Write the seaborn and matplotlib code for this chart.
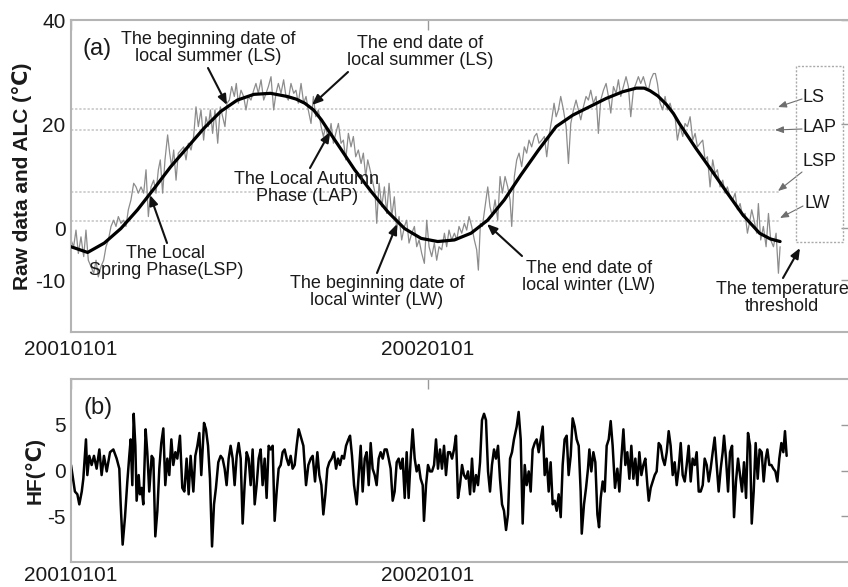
import matplotlib
matplotlib.use("Agg")
import matplotlib.pyplot as plt
from matplotlib.patches import Rectangle
import seaborn as sns
import pandas as pd

# ---------------- data ----------------
date_ticks = [0, 365]
date_labels = ["20010101", "20020101"]

# Annual cycle (ALC), days since 2001-01-01
alc_day = [0, 17, 34, 51, 68, 85, 102, 119, 136, 153, 170, 187, 204, 221, 230, 239, 248, 256, 263,
           273, 290, 307, 324, 341, 358, 375, 392, 409, 426, 443, 460, 478, 496, 513, 530, 547,
           564, 578, 586, 592, 600, 609, 616, 622, 639, 656, 670, 687, 704, 715, 725]
alc_val = [-3.6, -4.7, -2.9, -0.1, 3.5, 7.6, 11.8, 15.5, 19.2, 22.4, 24.6, 25.7, 25.9, 25.3,
           24.8, 24.0, 22.7, 20.8, 18.8, 16.0, 11.2, 7.0, 3.1, -0.1, -2.0, -2.6, -2.3, -1.0,
           1.5, 5.4, 10.2, 15.0, 19.5, 21.7, 23.3, 24.9, 26.2, 26.9, 26.9, 26.4, 25.4, 23.7,
           22.0, 20.1, 15.3, 10.8, 7.0, 2.5, -1.0, -2.1, -2.6]

# Raw daily data (day, temperature)
raw_part1 = [(0, -2.3), (2.7, -3.6), (5.1, -0.4), (7.5, -4.9), (10.2, -1.7), (13, -5.5), (15.3, -0.4),
             (17.7, -6.2), (20.4, -7.4), (23.2, -8.7), (25.6, -6.2), (27.9, -9.4), (30.7, -7.4),
             (33.4, -6.2), (35.8, -3.6), (38.2, -2.3), (40.9, 0.3), (43.6, 1.5), (46, 0.3), (48.4, 2.2),
             (51.1, 0.9), (53.8, 1.5), (56.2, 0.3), (58.6, 3.5), (61.3, 5.4), (64.1, 8.6), (66.5, 7.9),
             (68.8, 6.7), (71.6, 7.9), (74.3, 6.7), (76.7, 11.2), (79.1, 2.2), (81.8, 7.9), (84.5, 9.2),
             (86.9, 6.7), (89.3, 11.2), (91.3, 13.1), (93.7, 6.7), (96.1, 13.1), (98.8, 17.9),
             (100.9, 14.4), (102.9, 11.8), (105, 15.0), (107.4, 9.2), (109.7, 14.4), (112.5, 15.0),
             (115.2, 15.6), (117.6, 13.1), (120, 16.3), (122.7, 15.0), (125.4, 17.6), (127.8, 23.3),
             (130.2, 19.5), (132.9, 22.7), (135.6, 16.9), (138, 21.4), (140.4, 19.5), (142.5, 22.7),
             (144.8, 18.2), (147.2, 22.7), (150, 16.3), (152.7, 23.3), (155.1, 21.4), (157.4, 19.5),
             (159.5, 24.0), (161.9, 24.6), (164.3, 27.2), (167, 25.3), (169, 27.8), (171.1, 24.0),
             (173.8, 26.5), (176.5, 25.3), (178.9, 22.7), (181.3, 25.3), (184, 24.6), (186.8, 26.5),
             (189.1, 27.8), (191.5, 25.9), (194.3, 28.5), (197, 24.6), (199.4, 25.9), (201.8, 27.2),
             (204.5, 29.1), (207.2, 22.7), (209.6, 25.9), (212, 27.8), (214.7, 25.9), (217.4, 28.5),
             (219.8, 25.3), (222.2, 24.6), (224.9, 27.8), (227.7, 25.9), (230, 26.5), (232.4, 24.0),
             (235.2, 27.8), (237.9, 24.0), (240.3, 25.3), (242.6, 22.7), (245.4, 20.1)]
raw_part2 = [(247.8, 25.3), (250.2, 21.4), (252.9, 22.7), (255.7, 19.5), (258, 17.6), (260.4, 19.5),
             (263.2, 16.9), (265.9, 20.1), (268.3, 16.3), (270.7, 18.2), (273.4, 20.1), (276.1, 16.3),
             (278.5, 16.9), (280.9, 13.1), (283.6, 18.2), (286.3, 15.6), (288.7, 17.6), (291.1, 13.7),
             (293.8, 15.0), (296.6, 12.4), (298.9, 14.4), (301.3, 9.9), (303.4, 13.1), (305.8, 11.2),
             (308.1, 9.2), (310.9, 6.7), (312.6, 0.9), (315, 8.6), (317.7, 4.1), (320.4, 7.9),
             (322.8, 2.8), (325.2, 8.6), (327.9, 2.2), (330.6, 6.0), (333, -0.4), (335.4, 2.2),
             (338.1, -2.3), (340.9, 0.3), (343.2, 1.5), (345.6, -2.9), (348.4, -1.0), (351.1, 0.3),
             (353.5, -3.6), (355.9, -2.3), (358.6, -4.9), (361.3, -6.8), (363.7, 1.5), (366.1, -3.6),
             (368.8, -5.5), (371.5, -2.9), (373.9, -6.2), (376.3, -3.6), (379, -4.2), (381.8, -1.0),
             (384.1, -3.6), (386.5, -0.4), (389.2, -2.3), (392, -1.0), (394.4, -2.3), (396.7, 0.3),
             (399.5, -1.0), (402.2, 0.9), (404.6, -0.4), (407, 2.2), (409.7, 0.3), (412.4, -2.3),
             (414.8, -4.2), (416.5, -8.1), (418.6, 0.9), (420.6, 0.3), (423.3, 4.1), (426.1, 7.9),
             (428.4, 4.1), (430.8, 2.2), (433.6, 5.4), (436.3, 1.5), (438.7, 9.9), (441.1, 6.7),
             (443.8, 9.9), (446.5, 7.9), (448.9, 5.4), (450.6, 0.3), (453.3, 9.9), (455.7, 13.1),
             (458.1, 14.4), (460.8, 11.8), (463.5, 15.6), (465.9, 14.4), (468.3, 16.9), (471, 15.6),
             (473.8, 17.6), (476.2, 18.2), (478.5, 16.3), (481.3, 16.9), (484, 17.6)]
raw_part3 = [(486.4, 13.7), (489.1, 18.2), (491.5, 20.8), (493.9, 24.0), (496, 21.4), (498.3, 22.7),
             (500.7, 25.3), (503.5, 22.7), (506.2, 19.5), (508.6, 12.4), (511, 20.1), (513.7, 22.7),
             (516.4, 24.6), (518.8, 22.7), (521.2, 20.8), (523.9, 23.3), (526.6, 25.3), (529, 24.6),
             (531.4, 26.5), (534.1, 24.0), (536.9, 25.3), (539.2, 18.2), (541.6, 24.6), (544.4, 26.5),
             (547.1, 27.8), (549.5, 25.3), (551.9, 22.1), (554.6, 27.2), (557.3, 25.9), (559.7, 28.5),
             (562.1, 25.3), (564.8, 27.2), (567.5, 29.1), (569.9, 27.2), (572.3, 21.4), (575, 26.5),
             (577.7, 27.8), (580.1, 29.1), (582.5, 27.8), (585.2, 29.1), (588, 27.2), (590.4, 26.5),
             (592.7, 28.5), (595.5, 29.7), (597.5, 29.7), (599.6, 27.8), (602.3, 24.0), (605, 22.7),
             (607.4, 25.3), (609.8, 22.7), (612.5, 24.0), (615.2, 22.1), (617.6, 21.4), (620, 16.9),
             (622.7, 19.5), (625.5, 17.6), (627.8, 20.1), (630.2, 19.5), (633, 21.4), (635.7, 16.9),
             (638.1, 18.2), (640.5, 15.6), (643.2, 16.3), (645.9, 16.9), (648.3, 13.1), (650.7, 13.7),
             (653.4, 7.9), (656.1, 13.1), (658.5, 10.5), (660.9, 11.2), (663.6, 7.9), (666.4, 9.2),
             (668.7, 6.7), (671.1, 7.9), (673.9, 6.0), (676.6, 5.4), (679, 6.7), (681.4, 3.5),
             (684.1, 4.7), (686.8, 2.2), (689.2, 2.8), (691.6, -1.0), (693.6, 0.9), (696, 3.5),
             (698.4, 1.5), (701.1, -1.0), (702.8, 4.7), (705.2, -2.3), (707.9, 0.3), (710.7, -3.6),
             (713.1, 2.8), (715.4, -2.3), (718.2, -3.6), (720.9, -1.0), (723.3, -8.7), (725, -3.6)]

# High-frequency component (day, value)
hf_part1 = [(0, 0.6), (4, -2.3), (6.5, -2.6), (8.5, -3.7), (11, -2.3), (12.6, -0.9), (15.3, 3.4),
            (16.7, -0.5), (18.7, 1.6), (21.1, 0.6), (23.5, 1.6), (26.2, 0.2), (29, 2.3), (31.3, -0.5),
            (33.7, 1.6), (36.5, -0.1), (39.9, 2.0), (43.3, 2.3), (46.7, 1.3), (49.4, 0.2), (50.8, -3.7),
            (52.8, -8.1), (55.2, -5.1), (57.6, -1.2), (59.6, 1.6), (61, 3.4), (62.7, -1.6), (64.1, 6.2),
            (65.8, 2.7), (67.1, -3.3), (69.2, -0.5), (70.5, -2.6), (72.2, -1.9), (73.9, -3.7), (76.3, 4.5),
            (78, 2.0), (80, -2.3), (82.5, 1.6), (84.2, 1.3), (86.2, -7.2), (88.3, -4.4), (90.3, 0.2),
            (92.3, 3.0), (94.4, 4.6), (96.4, -1.6), (98.5, 1.3), (100.5, -0.5), (102.6, 3.4), (104.6, 0.6),
            (106.7, 2.0), (108.7, 1.3), (111.4, 3.8), (113.8, -1.9), (115.9, -2.3), (118.2, 1.3),
            (120.3, -2.6), (122.3, 1.6), (125.1, -2.3), (127.1, 1.6), (129.2, 2.7), (131.2, 4.1),
            (133.2, -0.5), (136, 5.2), (138, 4.5), (140.1, 2.7), (142.1, -0.9), (144.2, -8.3),
            (146.2, -3.7), (148.2, -1.9), (150.6, 0.9), (153, 1.6), (155, 1.3), (157.1, 0.2),
            (159.1, -1.6), (161.2, 1.3), (163.2, 2.7), (165.3, 1.3), (167.3, -1.6), (169.4, 1.6),
            (171.4, 3.0), (173.5, 1.3), (175.5, -5.8), (177.5, -1.6), (179.6, 2.0), (181.6, 1.3),
            (183.7, -1.6), (185.7, 2.3), (187.8, -3.7), (189.8, -1.6), (191.9, 1.3), (193.9, 2.3),
            (195.9, -1.6), (198, 1.3), (200, -3.0), (202.1, 2.7), (204.1, 2.3), (206.2, 2.7),
            (208.2, -5.5), (210.3, -2.3), (212.3, 0.2), (214.4, 0.6), (216.4, 2.0), (218.4, 2.3),
            (220.5, 1.3), (222.5, 0.6), (224.6, 1.6), (226.6, 0.2), (228.7, 0.6), (230.7, 2.7),
            (232.8, 4.5)]
hf_part2 = [(237.6, 2.7), (240.3, -1.6), (242.7, 0.6), (245.1, 1.3), (247.1, 1.6), (249.5, -1.2),
            (251.9, 2.0), (253.9, -0.5), (256, -1.6), (258, -4.8), (260.1, -2.6), (262.1, 0.2),
            (264.1, 0.9), (266.5, 1.3), (268.9, 2.0), (271, 0.2), (273, 1.3), (275, 0.6), (277.1, 1.6),
            (279.1, 1.3), (281.2, 2.7), (283.6, 3.4), (285.3, 3.8), (287.3, 1.6), (289.4, -1.6),
            (292.1, -3.7), (294.1, -0.5), (296.2, 2.7), (298.2, -2.3), (300.3, 1.3), (302.3, 2.0),
            (304.4, -1.6), (306.4, 3.0), (308.4, 0.2), (310.5, -0.5), (312.5, -1.6), (314.6, 1.3),
            (316.6, 2.0), (318.7, 1.3), (320.7, 2.3), (322.8, 2.3), (324.8, 1.3), (326.8, 0.2),
            (328.9, -3.3), (330.9, -2.3), (333, 0.9), (335, 1.3), (337.1, 0.2), (339.1, 1.3),
            (341.2, -3.0), (343.2, 2.0), (345.2, -3.0), (347.3, 1.3), (349.3, 4.5), (351.4, 1.3),
            (353.4, -0.1), (355.5, 0.6), (357.5, -0.9), (359.6, -1.6), (360.9, -5.5), (363, -1.6),
            (365, 0.6), (367.1, -0.1), (369.1, -0.1), (371.2, 0.6), (373.2, 3.4), (375.2, 0.2),
            (377.3, 2.3), (379.3, 0.2), (381.4, 2.7), (383.4, -0.5), (385.5, 2.0), (387.5, 2.0),
            (389.6, 1.3), (391.6, 2.3), (393.6, 3.8), (395.7, -3.0), (397.7, -1.6), (399.8, 0.6),
            (401.8, -0.5), (403.9, -0.9), (405.9, -0.1), (408, -2.6), (410, 1.3), (412, -2.3),
            (414.1, -0.5), (416.1, -1.6), (418.2, 0.9), (420.2, 5.5), (422.3, 6.2), (424.3, 5.5),
            (426.4, -0.1), (428.4, -2.3), (430.4, 0.6), (432.5, 2.3), (434.5, 1.3), (436.6, 2.7),
            (438.6, -0.9), (440.7, -3.7), (442.7, -4.4), (444.8, -6.5), (446.8, -4.8), (448.9, 1.3),
            (450.9, 2.0), (452.9, 3.4), (455.7, 4.8), (457.7, 6.4), (459.8, 3.4), (461.8, -5.8),
            (463.9, 0.6), (465.9, -1.6), (468, -0.1), (470, -2.3), (472, 2.3), (474.1, 3.0),
            (476.1, 3.4), (478.2, 2.0), (480.2, 3.4), (482.3, 4.8), (484.3, -0.5), (486.3, 1.3),
            (488.4, -2.3), (490.4, 0.9), (492.5, -3.7), (494.5, -3.3), (496.6, -4.4), (498.6, -2.6),
            (500.7, -5.1), (502.7, 0.6), (504.7, 3.4), (506.8, 3.8), (508.8, -0.5), (510.9, 1.6),
            (512.9, 5.7), (515, 4.8), (517, 3.4), (519.1, 2.7)]
hf_part3 = [(521.1, -2.3), (522.2, -6.9), (524.5, -3.7), (526.6, -1.9), (528.6, 0.2), (530, 2.3),
            (532, -0.1), (534.1, 2.0), (536.1, 0.9), (538.2, -4.8), (539.9, -6.2), (541.6, -3.0),
            (543.6, -1.2), (545.7, -2.3), (547.7, 2.7), (549.8, 3.4), (551.8, 5.4), (553.8, 2.7),
            (556.2, -1.9), (558.6, 0.2), (560.7, -2.3), (562.7, 1.3), (564.8, 4.5), (566.8, 0.6),
            (568.8, 2.0), (570.9, -0.9), (572.9, 2.7), (575, -0.9), (577, 1.3), (579.1, -1.6),
            (581.1, 2.0), (583.2, -0.5), (585.2, 0.6), (587.2, 1.3), (589.3, -1.6), (590.7, -3.3),
            (592.7, -1.9), (594.7, -1.2), (596.8, -0.5), (598.8, -0.1), (600.9, 3.0), (602.9, 2.7),
            (605, 1.3), (607, 0.6), (609.1, 2.0), (611.1, 4.3), (613.1, 2.7), (615.2, -0.5),
            (617.2, 0.9), (619.3, -1.6), (621.3, 0.2), (623.4, 3.0), (625.4, -0.5), (627.5, -1.2),
            (629.5, 0.6), (631.5, 2.7), (633.6, -1.2), (635.6, 1.3), (637.7, 0.6), (639.7, 2.0),
            (641.8, -2.3), (643.8, -2.3), (645.9, -1.6), (647.9, 1.3), (650, 0.6), (652, -1.2),
            (654, 0.2), (656.1, 2.0), (658.1, 3.6), (660.2, 0.6), (662.2, -2.3), (664.3, 0.2),
            (666.3, 2.0), (667.7, 3.8), (669.7, 1.3), (671.8, -2.3), (673.8, 2.0), (675.9, 2.7),
            (677.9, -5.1), (679.9, -1.2), (682, 1.3), (684, -0.5), (686.1, -2.3), (688.1, 0.9),
            (690.2, -3.0), (692.2, 4.1), (694.3, 2.7), (696, -5.8), (698, -2.3), (700, 3.0),
            (702.1, -0.9), (704.1, 2.3), (706.2, 2.0), (708.2, -1.2), (710.3, 1.3), (712, 2.3),
            (714, 0.6), (716.1, 0.6), (718.1, 0.2), (720.2, -0.1), (722.2, -1.2), (724.2, 1.3),
            (726.3, 3.0), (728.3, 2.0), (730, 4.3), (731.7, 1.6)]

# Temperature thresholds
threshold_names = ["LS", "LAP", "LSP", "LW"]
threshold_vals = [22.8, 18.8, 6.9, 1.4]

top_yticks = [-10, 0, 20, 40]
bot_yticks = [-5, 0, 5]

# ---------------- figure ----------------
sns.set_style("white")
plt.rcParams['font.family'] = ['Liberation Sans', 'DejaVu Sans']
plt.rcParams['axes.unicode_minus'] = False
TXT = '#1a1a1a'
SPINE = '#b4b4b4'

W, H = 848, 587
fig = plt.figure(figsize=(W / 100, H / 100), dpi=100)


def fp(px, py):
    """reference pixel (from top-left) -> figure pixels"""
    return (px, H - py)


ax1 = fig.add_axes([71 / W, 1 - 332 / H, 780 / W, 312 / H])
ax2 = fig.add_axes([71 / W, 1 - 562 / H, 780 / W, 183 / H])

raw_df = pd.DataFrame(raw_part1 + raw_part2 + raw_part3, columns=["day", "value"])
hf_df = pd.DataFrame(hf_part1 + hf_part2 + hf_part3, columns=["day", "value"])
alc_df = pd.DataFrame({"day": alc_day, "value": alc_val})

ax1.hlines(threshold_vals, xmin=raw_df["day"].min(), xmax=raw_df["day"].max(),
           colors='#c4c4c4', linestyles=(0, (1.5, 1.2)), linewidth=1.1, zorder=1)
sns.lineplot(data=raw_df, x="day", y="value", ax=ax1, color='#8c8c8c', linewidth=0.9,
             estimator=None, sort=False, zorder=2)
sns.lineplot(data=alc_df, x="day", y="value", ax=ax1, color='black', linewidth=2.3,
             estimator=None, sort=False, zorder=3)
sns.lineplot(data=hf_df, x="day", y="value", ax=ax2, color='black', linewidth=1.8,
             estimator=None, sort=False)

for ax, yt, ylim in [(ax1, top_yticks, (-20, 40)), (ax2, bot_yticks, (-10, 10))]:
    ax.set_xlim(0, 797.5)
    ax.set_ylim(*ylim)
    ax.set_xticks(date_ticks)
    ax.set_xticklabels(date_labels)
    ax.set_yticks(yt)
    ax.set_xlabel("")
    ax.set_ylabel("")
    ax.tick_params(direction='in', length=7, width=1, color='#999999', top=True, right=True,
                   labelsize=15, labelcolor=TXT, pad=4)
    for s in ax.spines.values():
        s.set_color(SPINE)
        s.set_linewidth(1.5)
        s.set_visible(True)
    ax.set_facecolor('white')
ax1.tick_params(axis='x', pad=6)
ax2.tick_params(axis='x', pad=3)

fig.text(22 / W, 1 - 176 / H, "Raw data and ALC (℃)", rotation=90, ha='center', va='center',
         fontsize=15, fontweight='bold', color=TXT)
fig.text(35 / W, 1 - 470 / H, "HF(℃)", rotation=90, ha='center', va='center',
         fontsize=15, fontweight='bold', color=TXT)

ax1.annotate("(a)", xy=fp(97, 49), xycoords='figure pixels', ha='center', va='center',
             fontsize=17, color=TXT)
ax2.annotate("(b)", xy=fp(98, 408), xycoords='figure pixels', ha='center', va='center',
             fontsize=17, color=TXT)

big_arrow = dict(arrowstyle='-|>,head_length=0.6,head_width=0.25', color='#111111', lw=1.5,
                 shrinkA=0, shrinkB=0)
notes = [
    ("The beginning date of\nlocal summer (LS)", (208, 48), (208, 68), (227, 105)),
    ("The end date of\nlocal summer (LS)", (420, 52), (348, 72), (312, 105)),
    ("The Local Autumn\nPhase (LAP)", (307, 188), (310, 168), (330, 132)),
    ("The Local\nSpring Phase(LSP)", (166, 262), (167, 243), (150, 195)),
    ("The beginning date of\nlocal winter (LW)", (377, 292), (377, 273), (397, 224)),
    ("The end date of\nlocal winter (LW)", (589, 277), (522, 256), (487, 224)),
    ("The temperature\nthreshold", (782, 298), (783, 278), (800, 248)),
]
for text, tpos, tail, head in notes:
    ax1.annotate(text, xy=fp(*tpos), xycoords='figure pixels', ha='center', va='center',
                 fontsize=13, color=TXT, linespacing=1.05, multialignment='center')
    ax1.annotate("", xy=fp(*head), xycoords='figure pixels', xytext=fp(*tail),
                 textcoords='figure pixels', arrowprops=big_arrow)

# threshold legend box
box = Rectangle((796 / W, 1 - 242 / H), 47 / W, 176 / H, transform=fig.transFigure,
                fill=False, edgecolor='#aaaaaa', linewidth=1.0, linestyle=(0, (1.5, 1.2)))
fig.patches.append(box)
small_arrow = dict(arrowstyle='-|>,head_length=0.5,head_width=0.2', color='#6e6e6e', lw=0.8,
                   shrinkA=0, shrinkB=0)
label_pos = {"LS": ((813, 98), (802, 99), (778, 107)),
             "LAP": ((820, 128), (802, 129), (775, 130)),
             "LSP": ((819, 162), (802, 172), (778, 191)),
             "LW": ((817, 204), (803, 206), (780, 218))}
for name in threshold_names:
    tpos, tail, head = label_pos[name]
    ax1.annotate(name, xy=fp(*tpos), xycoords='figure pixels', ha='center', va='center',
                 fontsize=13, color=TXT)
    ax1.annotate("", xy=fp(*head), xycoords='figure pixels', xytext=fp(*tail),
                 textcoords='figure pixels', arrowprops=small_arrow)

fig.savefig("out.png", dpi=100, facecolor='white')
